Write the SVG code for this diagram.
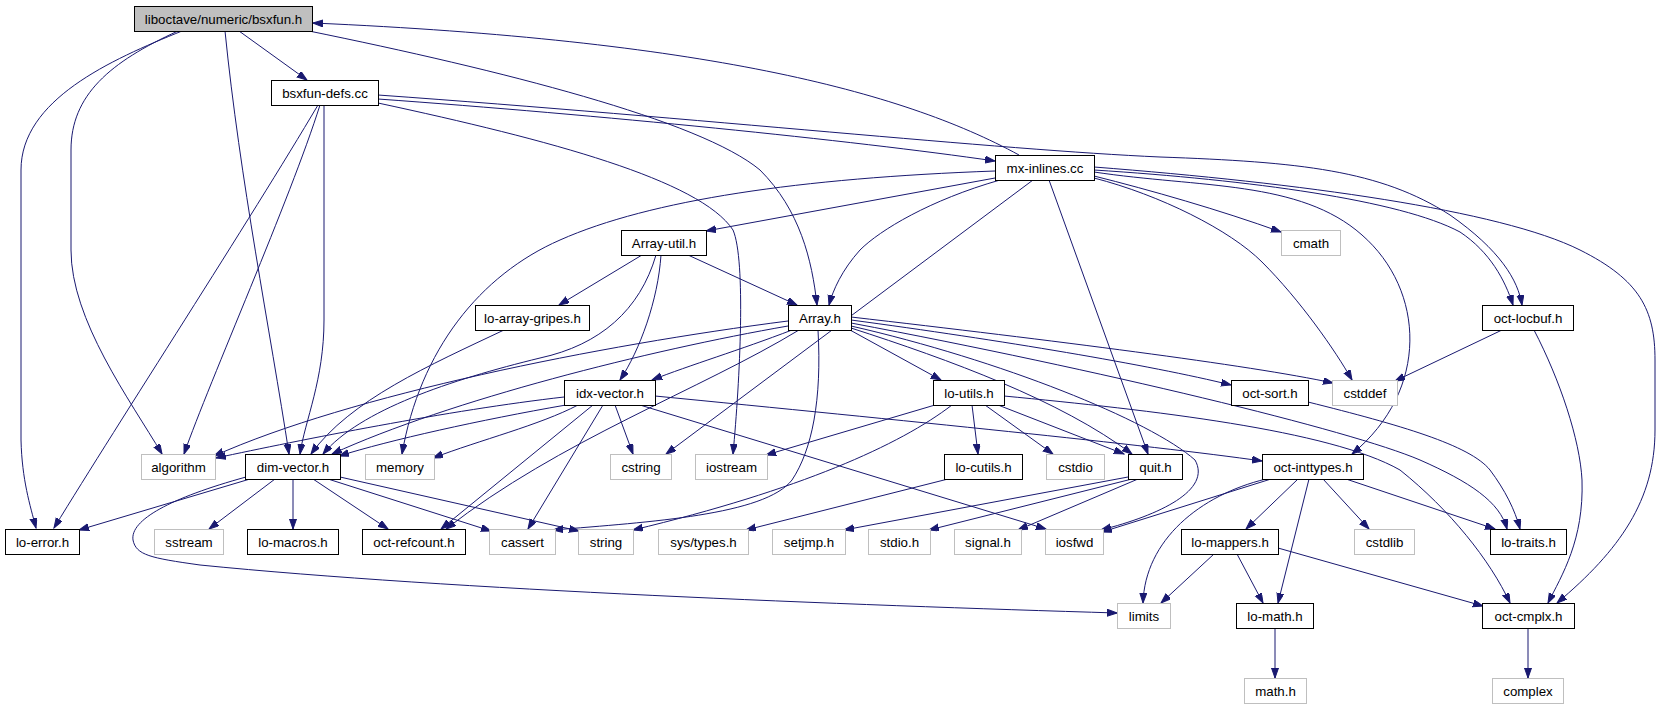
<svg xmlns="http://www.w3.org/2000/svg" width="1661" height="709" viewBox="0 0 1661 709">
<style>
rect{fill:#fff;stroke:#000;stroke-width:1}
.g rect{stroke:#bfbfbf}
.root rect{fill:#bfbfbf}
text{font-family:"Liberation Sans",Arial,sans-serif;font-size:13.3px;fill:#000;text-anchor:middle}
.e path{fill:none;stroke:#191970;stroke-width:1;marker-end:url(#a)}
</style>
<defs>
<marker id="a" markerWidth="11" markerHeight="8" refX="10" refY="3.5" orient="auto" markerUnits="userSpaceOnUse">
<path d="M0,0 L10,3.5 L0,7 z" fill="#191970" stroke="#191970" stroke-width="1"/>
</marker>
</defs>
<rect x="0" y="0" width="1661" height="709" style="fill:#fff;stroke:none"/>
<g class="e" id="edges">
<path d="M1019,155 C900,90 700,40 313,23"/>
<path d="M182,31 C110,60 21,100 21,170 L21,440 C22,480 30,505 36,528"/>
<path d="M178,31 C110,62 71,95 71,150 L71,250 C71,320 130,400 162,454"/>
<path d="M225,31 C240,180 270,330 289,454"/>
<path d="M239,31 L307,80"/>
<path d="M309,31 C500,70 700,120 760,170 C800,210 812,260 817,305"/>
<path d="M318,105 C250,220 120,420 54,528"/>
<path d="M320,105 C290,200 210,380 184,454"/>
<path d="M324,105 L324,320 C324,380 305,420 300,454"/>
<path d="M378,103 C550,140 700,180 733,230 C746,260 740,380 733,454"/>
<path d="M378,99 C600,115 850,140 995,161"/>
<path d="M378,95 C700,118 1000,150 1160,157 C1300,162 1380,170 1450,215 C1500,250 1518,280 1522,305"/>
<path d="M995,178 L706,231"/>
<path d="M1000,180 C930,200 880,230 860,250 C842,270 833,290 829,305"/>
<path d="M995,171 C800,178 650,200 560,240 C480,275 420,350 402,454"/>
<path d="M1033,180 L666,454"/>
<path d="M1049,180 L1148,454"/>
<path d="M1094,176 C1150,190 1220,210 1281,232"/>
<path d="M1094,178 C1160,195 1230,230 1262,262 C1300,300 1335,350 1352,380"/>
<path d="M1094,172 C1200,188 1300,180 1362,235 C1425,290 1430,390 1352,454"/>
<path d="M1094,170 C1250,180 1400,200 1460,232 C1490,252 1505,280 1513,305"/>
<path d="M1094,167 C1300,183 1500,210 1580,250 C1640,280 1655,310 1655,360 L1655,430 C1655,500 1620,550 1557,603"/>
<path d="M642,255 L559,305"/>
<path d="M688,255 L797,305"/>
<path d="M661,255 C658,300 640,350 620,380"/>
<path d="M656,255 C640,310 600,345 540,358 C450,380 360,410 323,454"/>
<path d="M504,330 C430,365 350,400 311,454"/>
<path d="M792,330 C740,350 690,365 652,380"/>
<path d="M788,321 C600,345 350,395 214,456"/>
<path d="M788,326 C650,350 450,400 332,454"/>
<path d="M799,330 C700,390 560,440 446,529"/>
<path d="M818,330 C822,400 812,450 792,480 C765,515 650,522 553,530"/>
<path d="M850,330 L941,380"/>
<path d="M851,328 C950,360 1060,400 1132,454"/>
<path d="M851,326 C1000,360 1150,420 1195,460 C1212,490 1160,515 1101,530"/>
<path d="M851,323 C1100,370 1350,430 1420,460 C1470,482 1500,502 1507,529"/>
<path d="M851,320 C1000,340 1150,365 1231,385"/>
<path d="M851,317 C1050,340 1250,365 1333,383"/>
<path d="M564,397 C450,410 300,440 216,458"/>
<path d="M566,405 C480,420 390,440 339,456"/>
<path d="M578,405 C540,425 480,440 433,458"/>
<path d="M593,405 L441,529"/>
<path d="M603,405 L528,529"/>
<path d="M615,405 L633,454"/>
<path d="M640,405 L1046,529"/>
<path d="M655,396 C900,420 1150,445 1262,461"/>
<path d="M935,405 L766,455"/>
<path d="M952,405 C900,445 800,490 633,530"/>
<path d="M972,405 L978,454"/>
<path d="M985,405 L1053,454"/>
<path d="M998,405 L1124,454"/>
<path d="M1004,396 C1150,410 1330,430 1400,470 C1450,510 1490,560 1510,603"/>
<path d="M948,479 L746,530"/>
<path d="M1128,477 L844,530"/>
<path d="M1132,479 L929,530"/>
<path d="M1138,479 L1018,530"/>
<path d="M1271,479 L1102,532"/>
<path d="M1266,479 C1200,495 1145,540 1143,603"/>
<path d="M1298,479 L1246,529"/>
<path d="M1309,479 L1278,603"/>
<path d="M1323,479 L1369,529"/>
<path d="M1346,479 L1495,529"/>
<path d="M1308,402 C1400,425 1470,445 1490,470 C1505,490 1515,510 1520,529"/>
<path d="M1502,330 L1395,381"/>
<path d="M1534,330 C1560,380 1580,440 1582,480 C1584,540 1562,575 1548,603"/>
<path d="M1214,554 L1161,603"/>
<path d="M1237,554 L1263,603"/>
<path d="M1278,548 L1483,606"/>
<path d="M250,479 L79,530"/>
<path d="M246,477 C170,498 130,520 133,540 C136,555 150,558 200,565 C450,590 850,605 1117,613"/>
<path d="M275,479 L209,529"/>
<path d="M293,479 L293,529"/>
<path d="M313,479 L388,529"/>
<path d="M328,479 L491,531"/>
<path d="M340,477 L579,531"/>
<path d="M1275,628 L1275,678"/>
<path d="M1528,628 L1528,678"/>
</g>
<g id="n_root" class="root"><rect x="134.5" y="6.5" width="178" height="25"/><text x="223.5" y="23.5">liboctave/numeric/bsxfun.h</text></g>
<g id="n_bsxfundefs"><rect x="271.5" y="80.5" width="107" height="25"/><text x="325" y="97.5">bsxfun-defs.cc</text></g>
<g id="n_mxinlines"><rect x="995.5" y="155.5" width="99" height="25"/><text x="1045" y="172.5">mx-inlines.cc</text></g>
<g id="n_arrayutil"><rect x="621.5" y="230.5" width="85" height="25"/><text x="664" y="247.5">Array-util.h</text></g>
<g id="n_cmath" class="g"><rect x="1281.5" y="230.5" width="59" height="25"/><text x="1311" y="247.5">cmath</text></g>
<g id="n_loarraygripes"><rect x="475.5" y="305.5" width="114" height="25"/><text x="532.5" y="322.5">lo-array-gripes.h</text></g>
<g id="n_array"><rect x="788.5" y="305.5" width="63" height="25"/><text x="820" y="322.5">Array.h</text></g>
<g id="n_octlocbuf"><rect x="1482.5" y="305.5" width="91" height="25"/><text x="1528" y="322.5">oct-locbuf.h</text></g>
<g id="n_idxvector"><rect x="564.5" y="380.5" width="91" height="25"/><text x="610" y="397.5">idx-vector.h</text></g>
<g id="n_loutils"><rect x="933.5" y="380.5" width="71" height="25"/><text x="969" y="397.5">lo-utils.h</text></g>
<g id="n_octsort"><rect x="1231.5" y="380.5" width="77" height="25"/><text x="1270" y="397.5">oct-sort.h</text></g>
<g id="n_cstddef" class="g"><rect x="1332.5" y="380.5" width="65" height="25"/><text x="1365" y="397.5">cstddef</text></g>
<g id="n_algorithm" class="g"><rect x="141.5" y="454.5" width="74" height="25"/><text x="178.5" y="471.5">algorithm</text></g>
<g id="n_dimvector"><rect x="245.5" y="454.5" width="95" height="25"/><text x="293" y="471.5">dim-vector.h</text></g>
<g id="n_memory" class="g"><rect x="365.5" y="454.5" width="69" height="25"/><text x="400" y="471.5">memory</text></g>
<g id="n_cstring" class="g"><rect x="610.5" y="454.5" width="61" height="25"/><text x="641" y="471.5">cstring</text></g>
<g id="n_iostream" class="g"><rect x="695.5" y="454.5" width="72" height="25"/><text x="731.5" y="471.5">iostream</text></g>
<g id="n_locutils"><rect x="944.5" y="454.5" width="78" height="25"/><text x="983.5" y="471.5">lo-cutils.h</text></g>
<g id="n_cstdio" class="g"><rect x="1046.5" y="454.5" width="58" height="25"/><text x="1075.5" y="471.5">cstdio</text></g>
<g id="n_quit"><rect x="1128.5" y="454.5" width="54" height="25"/><text x="1155.5" y="471.5">quit.h</text></g>
<g id="n_octinttypes"><rect x="1262.5" y="454.5" width="101" height="25"/><text x="1313" y="471.5">oct-inttypes.h</text></g>
<g id="n_loerror"><rect x="5.5" y="529.5" width="74" height="25"/><text x="42.5" y="546.5">lo-error.h</text></g>
<g id="n_sstream" class="g"><rect x="154.5" y="529.5" width="69" height="25"/><text x="189" y="546.5">sstream</text></g>
<g id="n_lomacros"><rect x="247.5" y="529.5" width="91" height="25"/><text x="293" y="546.5">lo-macros.h</text></g>
<g id="n_octrefcount"><rect x="362.5" y="529.5" width="103" height="25"/><text x="414" y="546.5">oct-refcount.h</text></g>
<g id="n_cassert" class="g"><rect x="489.5" y="529.5" width="66" height="25"/><text x="522.5" y="546.5">cassert</text></g>
<g id="n_string" class="g"><rect x="578.5" y="529.5" width="55" height="25"/><text x="606" y="546.5">string</text></g>
<g id="n_systypes" class="g"><rect x="658.5" y="529.5" width="90" height="25"/><text x="703.5" y="546.5">sys/types.h</text></g>
<g id="n_setjmp" class="g"><rect x="772.5" y="529.5" width="73" height="25"/><text x="809" y="546.5">setjmp.h</text></g>
<g id="n_stdio" class="g"><rect x="868.5" y="529.5" width="62" height="25"/><text x="899.5" y="546.5">stdio.h</text></g>
<g id="n_signal" class="g"><rect x="954.5" y="529.5" width="67" height="25"/><text x="988" y="546.5">signal.h</text></g>
<g id="n_iosfwd" class="g"><rect x="1045.5" y="529.5" width="58" height="25"/><text x="1074.5" y="546.5">iosfwd</text></g>
<g id="n_lomappers"><rect x="1181.5" y="529.5" width="97" height="25"/><text x="1230" y="546.5">lo-mappers.h</text></g>
<g id="n_cstdlib" class="g"><rect x="1354.5" y="529.5" width="60" height="25"/><text x="1384.5" y="546.5">cstdlib</text></g>
<g id="n_lotraits"><rect x="1490.5" y="529.5" width="76" height="25"/><text x="1528.5" y="546.5">lo-traits.h</text></g>
<g id="n_limits" class="g"><rect x="1117.5" y="603.5" width="53" height="25"/><text x="1144" y="620.5">limits</text></g>
<g id="n_lomath"><rect x="1236.5" y="603.5" width="77" height="25"/><text x="1275" y="620.5">lo-math.h</text></g>
<g id="n_octcmplx"><rect x="1482.5" y="603.5" width="92" height="25"/><text x="1528.5" y="620.5">oct-cmplx.h</text></g>
<g id="n_math" class="g"><rect x="1244.5" y="678.5" width="62" height="25"/><text x="1275.5" y="695.5">math.h</text></g>
<g id="n_complex" class="g"><rect x="1492.5" y="678.5" width="71" height="25"/><text x="1528" y="695.5">complex</text></g>
</svg>
